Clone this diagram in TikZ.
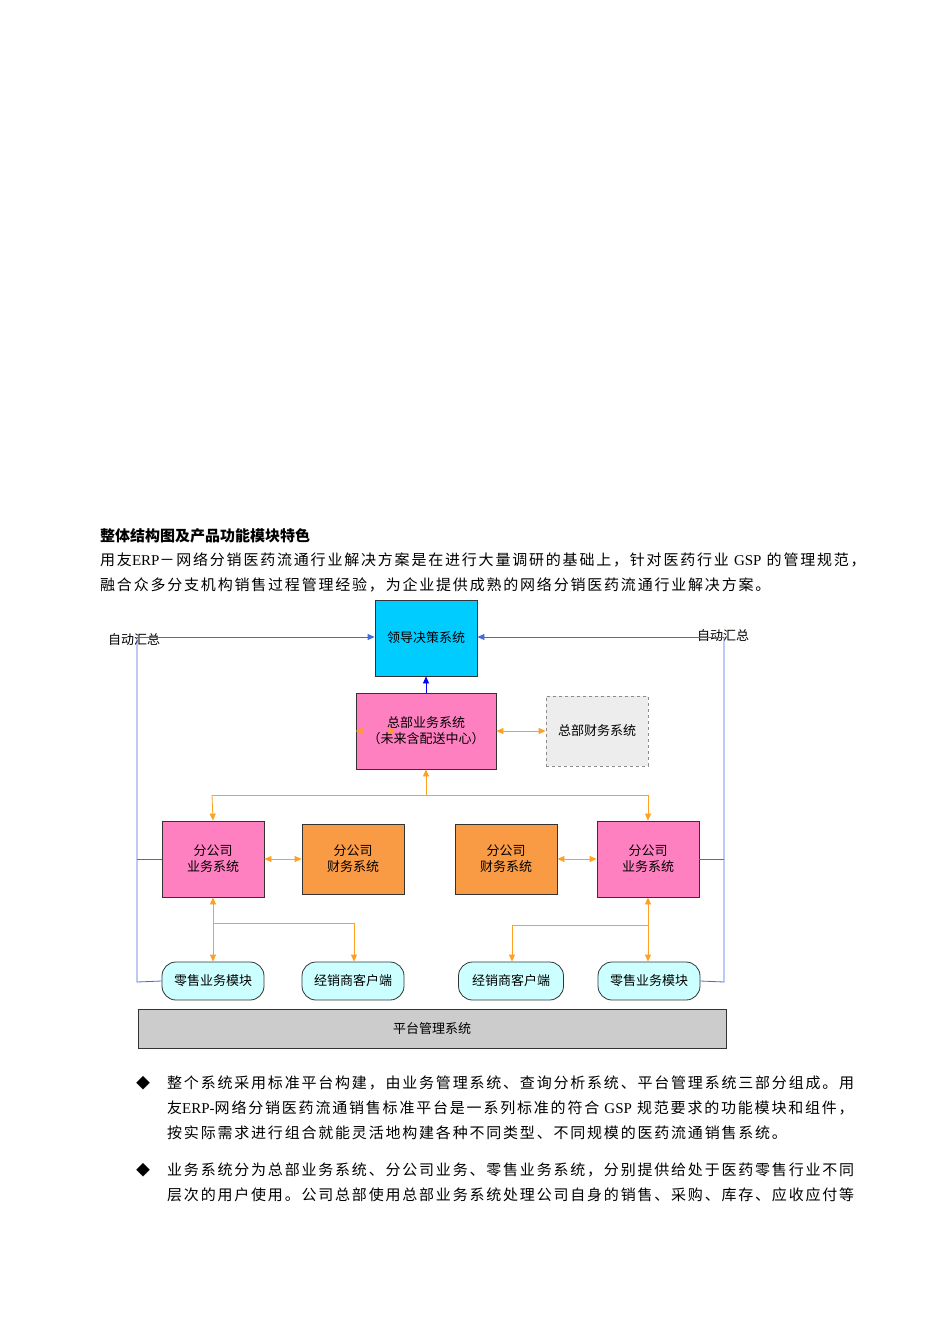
\documentclass[tikz,border=0pt]{standalone}
\usepackage{fontspec}
\setmainfont{Liberation Serif}
\newfontfamily\cjk{Noto Sans CJK SC}
\newfontfamily\cjks[LetterSpace=12]{Noto Sans CJK SC}
\usetikzlibrary{arrows.meta}
\definecolor{cyanbox}{HTML}{00CCFF}
\definecolor{pinkbox}{HTML}{FF80C0}
\definecolor{orangebox}{HTML}{F99B45}
\definecolor{lightcy}{HTML}{CCFFFF}
\definecolor{ora}{HTML}{FFA020}
\definecolor{blu}{HTML}{4169E1}
\tikzset{
  box/.style={draw=black!80, line width=0.8pt, minimum width=102pt, minimum height=76pt, inner sep=0pt, align=center, font=\cjk\fontsize{13}{16}\selectfont},
  rbox/.style={draw=black!80, line width=0.8pt, fill=lightcy, rounded corners=14pt, minimum height=38pt, inner sep=0pt, font=\cjk\fontsize{13}{15}\selectfont},
  oarr/.style={draw=ora, line width=0.8pt, -{Triangle[length=7pt,width=6pt]}},
  oarr2/.style={draw=ora, line width=0.8pt, {Triangle[length=7pt,width=6pt]}-{Triangle[length=7pt,width=6pt]}},
  oline/.style={draw=ora, line width=0.8pt},
  barr/.style={draw=blu, line width=0.8pt, -{Triangle[length=7pt,width=6pt]}},
  bline/.style={draw=blu, line width=0.8pt},
  txt/.style={anchor=west, inner sep=0pt, font=\cjks\fontsize{15}{18}\selectfont},
}
\begin{document}
\begin{tikzpicture}[x=1pt,y=-1pt]
\useasboundingbox (0,0) rectangle (950,1344);
% text
\node[txt, font=\cjk\bfseries\fontsize{15}{18}\selectfont] (t0) at (100,536) {整体结构图及产品功能模块特色};
\node[txt] (t1) at (100,560) {用友{\rmfamily ERP}－网络分销医药流通行业解决方案是在进行大量调研的基础上，针对医药行业 {\rmfamily GSP} 的管理规范，};
\node[txt] (t2) at (100,585) {融合众多分支机构销售过程管理经验，为企业提供成熟的网络分销医药流通行业解决方案。};
% boxes
\node[box, fill=cyanbox, minimum width=102pt] (lead) at (426,638) {领导决策系统};
\node[box, fill=pinkbox, minimum width=140pt] (hq) at (426,731) {总部业务系统\\（未来含配送中心）};
\node[box, draw=black!45, dashed, fill=black!7, minimum height=70pt, line width=0.7pt] (hqf) at (597,731) {总部财务系统};
\node[box, fill=pinkbox] (lb) at (213,859) {分公司\\业务系统};
\node[box, fill=orangebox, minimum height=70pt] (lf) at (353,859) {分公司\\财务系统};
\node[box, fill=orangebox, minimum height=70pt] (rf) at (506,859) {分公司\\财务系统};
\node[box, fill=pinkbox] (rb) at (648,859) {分公司\\业务系统};
\node[rbox, minimum width=102pt] (lr) at (213,981) {零售业务模块};
\node[rbox, minimum width=102pt] (ld) at (353,981) {经销商客户端};
\node[rbox, minimum width=105pt] (rd) at (511,981) {经销商客户端};
\node[rbox, minimum width=102pt] (rr) at (649,981) {零售业务模块};
\node[draw=black!80, line width=0.8pt, fill=black!20, minimum width=588pt, minimum height=39pt, inner sep=0pt, font=\cjk\fontsize{13}{15}\selectfont] (plat) at (432,1029) {平台管理系统};
% labels
\node[anchor=west, inner sep=0pt, font=\cjk\fontsize{13}{15}\selectfont] (la) at (108,640) {自动汇总};
\node[anchor=west, inner sep=0pt, font=\cjk\fontsize{13}{15}\selectfont] (ra) at (697,636) {自动汇总};
% blue
\coordinate (bl1) at (137,637);
\coordinate (br1) at (724,637);
\draw[barr] (bl1) -- (lead.west |- bl1);
\draw[barr] (br1) -- (lead.east |- br1);
\draw[bline] (bl1) -- (137,982) -- (lr.west);
\draw[bline] (137,859) -- (lb.west);
\draw[bline] (br1) -- (724,982) -- (rr.east);
\draw[bline] (724,859) -- (rb.east);
\draw[barr, draw=blue] (hq.north) -- (lead.south);
% orange
\coordinate (oj) at (426,795);
\draw[oarr] (oj) -- (hq.south);
\draw[oline] (212,795) -- (648,795);
\draw[oarr] (212,795) -- (lb.north);
\draw[oarr] (648,795) -- (rb.north);
\draw[oarr2] (hq.east) -- (hqf.west);
\draw[oarr2] (hq.west) -- ++(40,0);
\draw[oarr2] (lb.east) -- (lf.west);
\draw[oarr2] (rf.east) -- (rb.west);
\coordinate (lj) at (213,923);
\draw[oarr] (lj) -- (lb.south);
\draw[oarr] (lj) -- (lr.north);
\draw[oarr] (lj) -- (354,923) -- (ld.north -| 354,0);
\coordinate (rj) at (648,925);
\draw[oarr] (rj) -- (rb.south);
\draw[oarr] (rj) -- (rr.north -| rj);
\draw[oarr] (rj) -- (512,925) -- (rd.north -| 512,0);
% bullets
\node[txt, font=\fontsize{14}{16}\selectfont] (b1) at (136,1083) {\cjk ◆};
\node[txt] (p1) at (167,1083) {整个系统采用标准平台构建，由业务管理系统、查询分析系统、平台管理系统三部分组成。用};
\node[txt] (p2) at (167,1108) {友{\rmfamily ERP-}网络分销医药流通销售标准平台是一系列标准的符合 {\rmfamily GSP} 规范要求的功能模块和组件，};
\node[txt] (p3) at (167,1133) {按实际需求进行组合就能灵活地构建各种不同类型、不同规模的医药流通销售系统。};
\node[txt, font=\fontsize{14}{16}\selectfont] (b2) at (136,1170) {\cjk ◆};
\node[txt] (p4) at (167,1170) {业务系统分为总部业务系统、分公司业务、零售业务系统，分别提供给处于医药零售行业不同};
\node[txt] (p5) at (167,1195) {层次的用户使用。公司总部使用总部业务系统处理公司自身的销售、采购、库存、应收应付等};
\end{tikzpicture}
\end{document}
